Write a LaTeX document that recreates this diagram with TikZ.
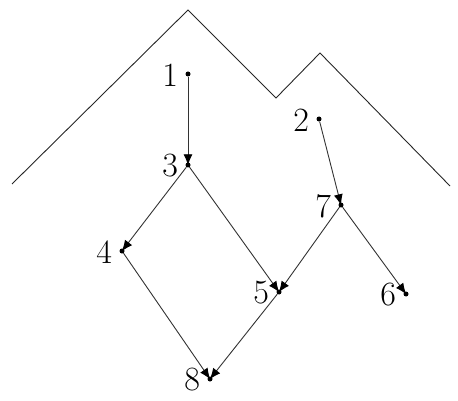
\documentclass[tikz,border=0pt]{standalone}
\usetikzlibrary{arrows.meta}
\begin{document}
\begin{tikzpicture}[x=1pt,y=-1pt,
  pt/.style={circle,fill=black,inner sep=0pt,minimum size=5pt,
    label={[font=\fontsize{34}{36}\selectfont,inner sep=0pt,xshift=-7pt,yshift=-1pt]left:#1}},
  edge/.style={draw=black!80,line width=0.9pt,-{Latex[length=11pt,width=9pt,black]},shorten >=-3pt}]
\useasboundingbox (0,0) rectangle (458,401);
\draw[black!85,line width=0.9pt] (12,184) -- (188,10) -- (276,98) -- (320,53) -- (450,186);
\node[pt=1] (n1) at (188,74) {};
\node[pt=2] (n2) at (319,119) {};
\node[pt=3] (n3) at (188,165) {};
\node[pt=4] (n4) at (122,251) {};
\node[pt=5] (n5) at (279,292) {};
\node[pt=6] (n6) at (406,294) {};
\node[pt=7] (n7) at (341,205) {};
\node[pt=8] (n8) at (210,379) {};
\draw[edge] (n1) -- (n3);
\draw[edge] (n3) -- (n4);
\draw[edge] (n3) -- (n5);
\draw[edge] (n2) -- (n7);
\draw[edge] (n7) -- (n5);
\draw[edge] (n7) -- (n6);
\draw[edge] (n4) -- (n8);
\draw[edge] (n5) -- (n8);
\end{tikzpicture}
\end{document}
